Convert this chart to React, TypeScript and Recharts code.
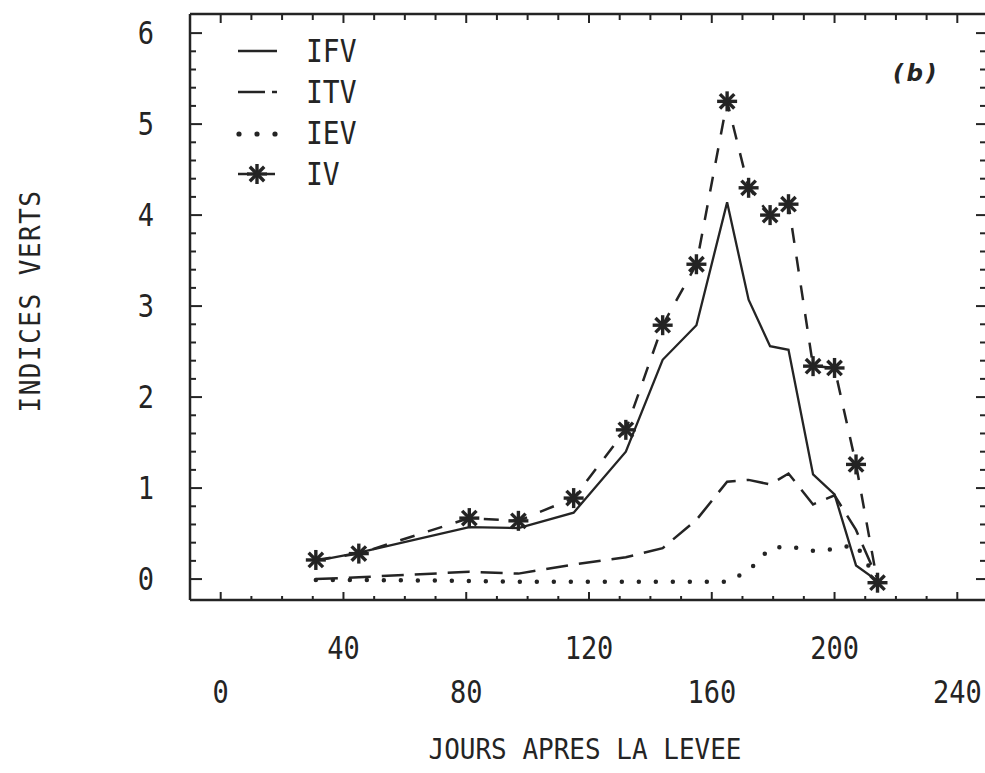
import React from "react";
import { LineChart, Line, XAxis, YAxis, Legend } from "recharts";

// days after emergence
const days = [31, 45, 81, 97, 115, 132, 144, 155, 165, 172, 179, 185, 193, 200, 207, 214];
const ifv = [0.2, 0.29, 0.57, 0.56, 0.73, 1.4, 2.41, 2.79, 4.14, 3.07, 2.56, 2.52, 1.15, 0.93, 0.15, -0.02];
const itv = [0.0, 0.02, 0.08, 0.06, 0.16, 0.24, 0.34, 0.65, 1.07, 1.09, 1.04, 1.16, 0.82, 0.92, 0.54, 0.0];
const iev = [-0.01, -0.01, -0.02, -0.03, -0.03, -0.03, -0.03, -0.03, -0.03, 0.09, 0.34, 0.36, 0.31, 0.33, 0.38, -0.02];
const iv = [0.21, 0.28, 0.67, 0.64, 0.89, 1.64, 2.79, 3.46, 5.25, 4.3, 4.0, 4.12, 2.34, 2.32, 1.26, -0.04];

const seriesOrder = ["IFV", "ITV", "IEV", "IV"];
const xLabels = [0, 40, 80, 120, 160, 200, 240];
const xMinorTicks = Array.from({ length: 25 }, (_, i) => i * 10);
const yMinorTicks = Array.from({ length: 31 }, (_, i) => (i * 2) / 10);

const data = days.map((d, i) => ({ day: d, IFV: ifv[i], ITV: itv[i], IEV: iev[i], IV: iv[i] }));

const INK = "#242424";
const FONT = "'DejaVu Sans Mono', monospace";

const X_DOMAIN = [-10, 250];
const Y_DOMAIN = [-0.23, 6.21];

// plotter lettering is narrow and tall: stretch the mono font a bit vertically
const Tall = ({ x, y, anchor = "middle", size = 27, sy = 1.18, spacing = 0, rotate = 0, children }: any) => (
  <text
    transform={`translate(${x} ${y}) rotate(${rotate}) scale(1 ${sy})`}
    textAnchor={anchor}
    dominantBaseline="central"
    fontFamily={FONT}
    fontSize={size}
    letterSpacing={spacing}
    fill={INK}
  >
    {children}
  </text>
);

// tick marks point into the frame; labels only on the bottom / left
const BottomTick = (props: any) => {
  const { x, y, payload } = props;
  const v = payload.value;
  const idx = xLabels.indexOf(v);
  const major = idx >= 0;
  return (
    <g>
      <line x1={x} x2={x} y1={y} y2={y - (major ? 8 : 4)} stroke={INK} strokeWidth={2} />
      {major && (
        <Tall x={x} y={y + (idx % 2 === 1 ? 48 : 92)}>
          {v}
        </Tall>
      )}
    </g>
  );
};

const TopTick = (props: any) => {
  const { x, y, payload } = props;
  const major = xLabels.includes(payload.value);
  return <line x1={x} x2={x} y1={y} y2={y + (major ? 9 : 6)} stroke={INK} strokeWidth={2} />;
};

const LeftTick = (props: any) => {
  const { x, y, payload } = props;
  const v = payload.value;
  const major = Number.isInteger(v);
  return (
    <g>
      <line x1={x} x2={x + (major ? 12 : 6)} y1={y} y2={y} stroke={INK} strokeWidth={2} />
      {major && (
        <Tall x={x - 36} y={y} anchor="end">
          {v}
        </Tall>
      )}
    </g>
  );
};

const RightTick = (props: any) => {
  const { x, y, payload } = props;
  const major = Number.isInteger(payload.value);
  return <line x1={x} x2={x - (major ? 12 : 8)} y1={y} y2={y} stroke={INK} strokeWidth={2} />;
};

const XTitle = (props: any) => {
  const { x, y, width } = props.viewBox;
  return (
    <Tall x={x + width / 2 - 4} y={y + 149} size={26} sy={1.1}>
      JOURS APRES LA LEVEE
    </Tall>
  );
};

const YTitle = (props: any) => {
  const { x, y, height } = props.viewBox;
  return (
    <Tall x={x + 30} y={y + height / 2 - 6} size={26} sy={1.1} spacing={1.5} rotate={-90}>
      INDICES VERTS
    </Tall>
  );
};

const StarDot = (props: any) => {
  const { cx, cy } = props;
  if (cx == null || cy == null) return null;
  const r = 10;
  const d = r * 0.72;
  return (
    <g stroke={INK} strokeWidth={3.4}>
      <line x1={cx - r} y1={cy} x2={cx + r} y2={cy} />
      <line x1={cx} y1={cy - r} x2={cx} y2={cy + r} />
      <line x1={cx - d} y1={cy - d} x2={cx + d} y2={cy + d} />
      <line x1={cx - d} y1={cy + d} x2={cx + d} y2={cy - d} />
    </g>
  );
};

const sample = (key: string) => {
  if (key === "IFV") return <line x1={8} x2={47} y1={20} y2={20} stroke={INK} strokeWidth={2.5} />;
  if (key === "ITV")
    return (
      <g stroke={INK} strokeWidth={2.5}>
        <line x1={8} x2={35} y1={20} y2={20} />
        <line x1={42} x2={47} y1={20} y2={20} />
      </g>
    );
  if (key === "IEV")
    return (
      <g fill={INK}>
        <circle cx={9} cy={21} r={2.6} />
        <circle cx={27} cy={21} r={2.6} />
        <circle cx={45} cy={21} r={2.6} />
      </g>
    );
  return (
    <g stroke={INK} strokeWidth={2.5}>
      <line x1={8} x2={19} y1={20} y2={20} />
      <StarDot cx={27} cy={20} />
      <line x1={37} x2={45} y1={20} y2={20} />
    </g>
  );
};

const LegendBox = (props: any) => {
  const items = [...(props.payload || [])].sort(
    (a: any, b: any) => seriesOrder.indexOf(a.value) - seriesOrder.indexOf(b.value)
  );
  return (
    <div>
      {items.map((it: any) => (
        <div key={it.value} style={{ display: "flex", alignItems: "center", height: 41 }}>
          <svg width={76} height={41}>{sample(it.value)}</svg>
          <span
            style={{
              fontFamily: FONT,
              fontSize: 28,
              color: INK,
              lineHeight: "41px",
              display: "inline-block",
              transform: "scaleY(1.12)",
            }}
          >
            {it.value}
          </span>
        </div>
      ))}
    </div>
  );
};

export default function App() {
  return (
    <div
      style={{
        position: "absolute",
        left: 0,
        top: 0,
        width: 985,
        height: 773,
        overflow: "hidden",
        background: "#fff",
      }}
    >
      <LineChart width={990} height={773} data={data} margin={{ top: 13, right: 1, bottom: 0, left: 0 }}>
        <XAxis
          xAxisId="bottom"
          dataKey="day"
          type="number"
          domain={X_DOMAIN}
          allowDataOverflow
          ticks={xMinorTicks}
          interval={0}
          height={173}
          tickSize={0}
          tickMargin={0}
          tickLine={false}
          axisLine={{ stroke: INK, strokeWidth: 2.5 }}
          tick={<BottomTick />}
          label={<XTitle />}
        />
        <XAxis
          xAxisId="top"
          orientation="top"
          dataKey="day"
          type="number"
          domain={X_DOMAIN}
          allowDataOverflow
          ticks={xMinorTicks}
          interval={0}
          height={1}
          tickSize={0}
          tickMargin={0}
          tickLine={false}
          axisLine={{ stroke: INK, strokeWidth: 2.5 }}
          tick={<TopTick />}
        />
        <YAxis
          yAxisId="left"
          type="number"
          domain={Y_DOMAIN}
          allowDataOverflow
          ticks={yMinorTicks}
          interval={0}
          width={190}
          tickSize={0}
          tickMargin={0}
          tickLine={false}
          axisLine={{ stroke: INK, strokeWidth: 2.5 }}
          tick={<LeftTick />}
          label={<YTitle />}
        />
        <YAxis
          yAxisId="right"
          orientation="right"
          type="number"
          domain={Y_DOMAIN}
          allowDataOverflow
          ticks={yMinorTicks}
          interval={0}
          width={1}
          tickSize={0}
          tickMargin={0}
          tickLine={false}
          axisLine={{ stroke: INK, strokeWidth: 2.5 }}
          tick={<RightTick />}
        />
        <Legend
          layout="vertical"
          align="center"
          verticalAlign="middle"
          content={<LegendBox />}
          wrapperStyle={{ left: 230, top: 31, width: 200 }}
        />
        {/* IFV and ITV sit on the top/right axes (same domain and range as bottom/left) */}
        <Line
          xAxisId="top"
          yAxisId="right"
          type="linear"
          dataKey="IFV"
          name="IFV"
          stroke={INK}
          strokeWidth={2.3}
          dot={false}
          activeDot={false}
          isAnimationActive={false}
        />
        <Line
          xAxisId="top"
          yAxisId="right"
          type="linear"
          dataKey="ITV"
          name="ITV"
          stroke={INK}
          strokeWidth={2.5}
          strokeDasharray="22 11"
          dot={false}
          activeDot={false}
          isAnimationActive={false}
        />
        <Line
          xAxisId="bottom"
          yAxisId="left"
          type="linear"
          dataKey="IEV"
          name="IEV"
          stroke={INK}
          strokeWidth={4.5}
          strokeLinecap="round"
          strokeDasharray="0 17"
          dot={false}
          activeDot={false}
          isAnimationActive={false}
        />
        <Line
          xAxisId="bottom"
          yAxisId="left"
          type="linear"
          dataKey="IV"
          name="IV"
          stroke={INK}
          strokeWidth={2.5}
          strokeDasharray="15 14"
          dot={<StarDot />}
          activeDot={false}
          isAnimationActive={false}
        />
      </LineChart>
      <div
        style={{
          position: "absolute",
          left: 893,
          top: 60,
          fontFamily: "'DejaVu Sans', sans-serif",
          fontStyle: "italic",
          fontWeight: "bold",
          fontSize: 23,
          letterSpacing: 3,
          color: INK,
        }}
      >
        (b)
      </div>
    </div>
  );
}
